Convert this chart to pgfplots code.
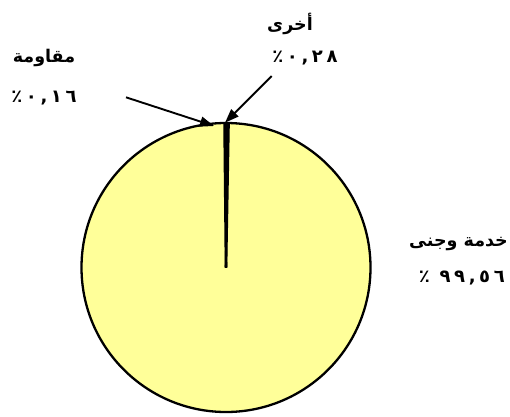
\documentclass[border=0pt]{standalone}
\usepackage{fontspec}
\usepackage{pgfplots}
\pgfplotsset{compat=1.18}
\usetikzlibrary{arrows.meta}
\TeXXeTstate=1
\newfontfamily\arabicfont[Script=Arabic]{DejaVu Sans}
\newfontfamily\arabicnum[Script=Arabic, LetterSpace=20]{DejaVu Sans}
\definecolor{pieyellow}{RGB}{255,255,153}

% shares in percent, clockwise from 12 o'clock
\def\pAkhra{0.28}
\def\pKhidma{99.56}
\def\pMuqawama{0.16}
\pgfmathsetmacro\aA{90-\pAkhra*3.6}
\pgfmathsetmacro\aB{\aA-\pKhidma*3.6}
\pgfmathsetmacro\aC{\aB-\pMuqawama*3.6}
\def\cx{226}\def\cy{148.5}\def\rr{144.5}

\begin{document}
\begin{tikzpicture}
\begin{axis}[
    width=510pt, height=416pt, scale only axis,
    xmin=0, xmax=510, ymin=0, ymax=416,
    hide axis, clip=false,
]
\path (axis cs:0,0) rectangle (axis cs:510,416);
\fill[pieyellow] (axis cs:\cx,\cy) -- ++(90:\rr pt) arc[start angle=90, end angle=\aA, radius=\rr pt] -- cycle;
\fill[pieyellow] (axis cs:\cx,\cy) -- ++(\aA:\rr pt) arc[start angle=\aA, end angle=\aB, radius=\rr pt] -- cycle;
\fill[pieyellow] (axis cs:\cx,\cy) -- ++(\aB:\rr pt) arc[start angle=\aB, end angle=\aC, radius=\rr pt] -- cycle;
\draw[line width=2.3pt] (axis cs:\cx,\cy) circle[radius=\rr pt];
\draw[line width=2.6pt] (axis cs:\cx,\cy) -- ++(90:\rr pt);
\draw[line width=2.6pt] (axis cs:\cx,\cy) -- ++(\aA:\rr pt);
\draw[line width=2.6pt] (axis cs:\cx,\cy) -- ++(\aB:\rr pt);

% leader arrows
\draw[line width=1.9pt, -{Triangle[length=14pt, width=10pt]}] (axis cs:126,318.7) -- (axis cs:214,290);
\draw[line width=1.9pt, -{Triangle[length=14pt, width=10pt]}] (axis cs:271.7,340) -- (axis cs:225,293.3);

% labels
\begin{scope}[every node/.style={font=\arabicfont\bfseries\fontsize{17.5}{20}\selectfont, inner sep=0pt}]
\node at (axis cs:290,392) {\beginR أخرى\endR};
\node at (axis cs:305,358) {\fontsize{18}{20}\arabicnum\beginR ٠,٢٨٪\endR};
\node at (axis cs:44,358) {\beginR مقاومة\endR};
\node at (axis cs:44,318) {\fontsize{18}{20}\arabicnum\beginR ٠,١٦٪\endR};
\node[anchor=east] at (axis cs:508,172) {\beginR خدمة وجنى\endR};
\node[anchor=east] at (axis cs:505,138) {\fontsize{18}{20}\arabicnum\beginR ٩٩,٥٦ ٪\endR};
\end{scope}
\end{axis}
\end{tikzpicture}
\end{document}
